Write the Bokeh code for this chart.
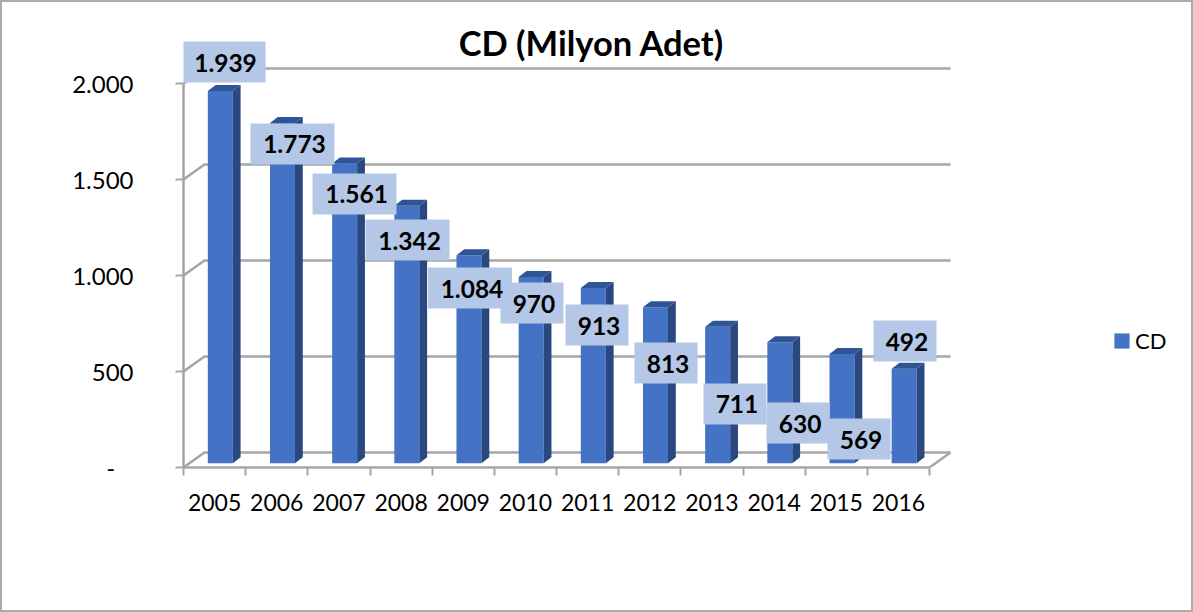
from bokeh.plotting import figure
from bokeh.models import (FixedTicker, LinearAxis, Legend, LegendItem,
                          Range1d, Label, InlineStyleSheet)
from bokeh.core.properties import value
from bokeh.embed import file_html
from bokeh.resources import INLINE

# ---- data ----
years = ["2005", "2006", "2007", "2008", "2009", "2010", "2011", "2012", "2013", "2014", "2015", "2016"]
cd_values = [1939, 1773, 1561, 1342, 1084, 970, 913, 813, 711, 630, 569, 492]
value_labels = ["1.939", "1.773", "1.561", "1.342", "1.084", "970", "913", "813", "711", "630", "569", "492"]
grid_values = [0, 500, 1000, 1500, 2000]
y_tick_labels = ["-\u00a0\u00a0\u00a0", "500", "1.000", "1.500", "2.000"]
series_name = "CD"
chart_title = "CD (Milyon Adet)"

# ---- layout (label placement relative to each bar, in pixels) ----
label_dx = [3.2, 10, 9.9, 0.7, 1, 0.8, 3.7, 10.5, 17.3, 18.2, 17, 0.8]
label_dy = [-29, 21.1, 30.4, 34.4, 32.9, 26, 37, 55.8, 77.2, 80.7, 85, -27.8]

W, H = 1193, 612
LEFT, BASE = 183, 467          # pixel position of the axes' origin
SLOT = 62.17                   # px per category
PX_PER_UNIT = 0.192            # px per value unit
x_of = lambda px: px / SLOT
y_of = lambda px: px / PX_PER_UNIT

BAR_START, BAR_W = 24.3 / SLOT, 25 / SLOT
BAR_BASE = y_of(4.2)
BAR_DX, BAR_DY = x_of(7.8), y_of(6)
WALL_DX, WALL_DY = x_of(21), y_of(15)
n = len(years)

p = figure(width=W, height=H, output_backend="svg", toolbar_location=None,
           x_range=Range1d(0, (W - LEFT) / SLOT), y_range=Range1d(0, BASE / PX_PER_UNIT),
           min_border_left=LEFT, min_border_right=0, min_border_top=0, min_border_bottom=H - BASE,
           x_axis_type=None, y_axis_type=None, outline_line_color=None,
           background_fill_color=None, border_fill_color=None)
p.xgrid.visible = False
p.ygrid.visible = False
# chart-area border
p.stylesheets = [InlineStyleSheet(css=":host { box-shadow: inset 2px 2px 0 0 #ABABAB, inset -2px -2px 0 0 #ABABAB; background: white; }")]

GRAY = "#A6A6A6"
# back-wall grid lines with the diagonal run to the front axis
wall_xs = [[0, WALL_DX, n + WALL_DX] for _ in grid_values]
wall_ys = [[v, v + WALL_DY, v + WALL_DY] for v in grid_values]
p.multi_line(wall_xs, wall_ys, line_color=GRAY, line_width=2.5)
# floor's right edge
p.line([n, n + WALL_DX], [0, WALL_DY], line_color=GRAY, line_width=2.5)

# bars
x0 = [i + BAR_START for i in range(n)]
x1 = [x + BAR_W for x in x0]
tops = [v + y_of(4.2) for v in cd_values]
front = p.quad(left=x0, right=x1, bottom=[BAR_BASE] * n, top=tops, fill_color="#4472C4", line_color=None)
p.patches([[a, a + BAR_DX, a + BAR_DX, a] for a in x1],
          [[BAR_BASE, BAR_BASE + BAR_DY, t + BAR_DY, t] for t in tops],
          fill_color="#2A4880", line_color=None)
p.patches([[a, b, b + BAR_DX, a + BAR_DX] for a, b in zip(x0, x1)],
          [[t, t, t + BAR_DY, t + BAR_DY] for t in tops],
          fill_color="#2F5597", line_color=None)

# data labels
cx = [(a + b) / 2 + x_of(d) for a, b, d in zip(x0, x1, label_dx)]
cy = [t - y_of(d) for t, d in zip(tops, label_dy)]
half = [x_of(42 if len(s) > 3 else 31.5) for s in value_labels]
hh = y_of(20.5)
p.quad(left=[c - h for c, h in zip(cx, half)], right=[c + h for c, h in zip(cx, half)],
       bottom=[c - hh for c in cy], top=[c + hh for c in cy], fill_color="#B4C7E7", line_color=None)
p.text(x=[c + x_of(2) for c in cx], y=[c - y_of(0.5) for c in cy], text=value_labels,
       text_font=value("Lato"), text_font_style="bold", text_font_size="24.5px",
       text_align="center", text_baseline="middle", text_color="black")

# title
p.add_layout(Label(x=x_of(591 - LEFT), y=y_of(BASE - 42), text=chart_title, text_font="Lato",
                   text_font_style="bold", text_font_size="34.5px", text_align="center",
                   text_baseline="middle", text_color="black"))

# axes
yax = LinearAxis(ticker=FixedTicker(ticks=grid_values), bounds=(0, 2000),
                 major_label_overrides={v: s for v, s in zip(grid_values, y_tick_labels)},
                 major_tick_out=8, major_tick_in=0, minor_tick_out=0, minor_tick_in=0,
                 axis_line_color=GRAY, axis_line_width=2.5, major_tick_line_color=GRAY, major_tick_line_width=2,
                 major_label_standoff=42, major_label_text_font="Lato", major_label_text_font_size="24px",
                 major_label_text_color="black")
p.add_layout(yax, "left")
centers = [i + 0.5 for i in range(n)]
xax = LinearAxis(ticker=FixedTicker(ticks=centers, minor_ticks=list(range(n + 1))), bounds=(0, n),
                 major_label_overrides={c: y for c, y in zip(centers, years)},
                 major_tick_out=0, major_tick_in=0, minor_tick_out=8, minor_tick_in=0,
                 axis_line_color=GRAY, axis_line_width=2.5, minor_tick_line_color=GRAY, minor_tick_line_width=2,
                 major_label_standoff=18, major_label_text_font="Lato", major_label_text_font_size="23px",
                 major_label_text_color="black", major_label_orientation="horizontal")
p.add_layout(xax, "below")

# legend
legend = Legend(items=[LegendItem(label=series_name, renderers=[front])], location=(929, 113),
                glyph_width=19, glyph_height=19, label_standoff=4, padding=0, margin=0, spacing=0,
                label_text_font="Lato", label_text_font_size="22px", label_text_color="black",
                label_height=19, background_fill_alpha=0, border_line_color=None)
p.add_layout(legend, "center")

open("out.html", "w").write(file_html(p, INLINE))
